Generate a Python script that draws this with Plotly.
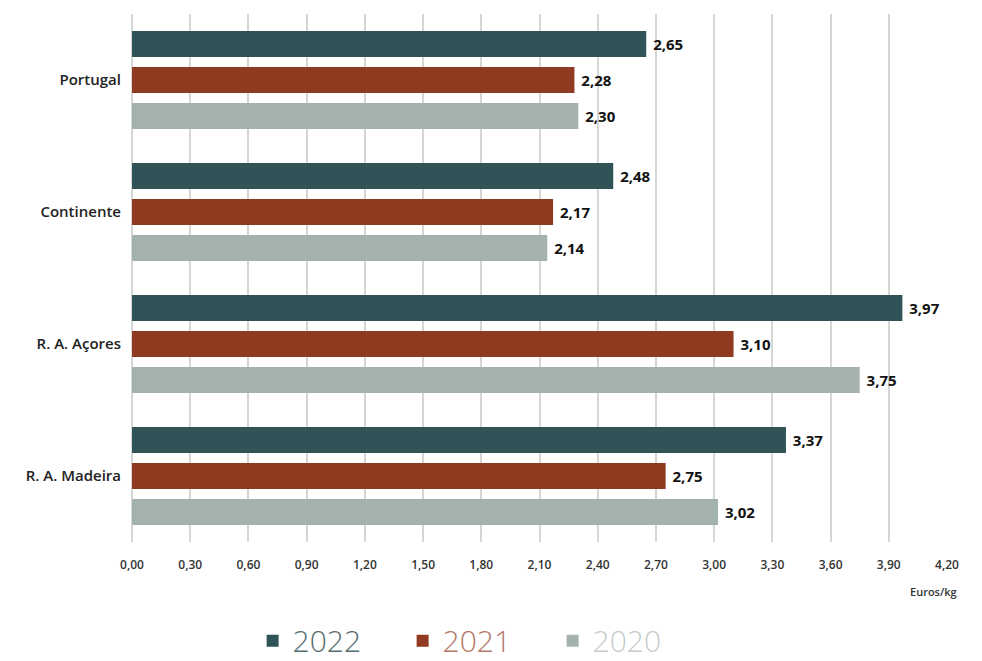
import plotly.graph_objects as go

categories = ["Portugal", "Continente", "R. A. Açores", "R. A. Madeira"]
years = ["2022", "2021", "2020"]
values_2022 = [2.65, 2.48, 3.97, 3.37]
values_2021 = [2.28, 2.17, 3.10, 2.75]
values_2020 = [2.30, 2.14, 3.75, 3.02]
tick_vals = [0.0, 0.3, 0.6, 0.9, 1.2, 1.5, 1.8, 2.1, 2.4, 2.7, 3.0, 3.3, 3.6, 3.9, 4.2]

series = [values_2022, values_2021, values_2020]
bar_colors = ["#2f5357", "#913a22", "#a4b2ac"]
legend_text_colors = ["#566d72", "#b27868", "#c6ccca"]

fig = go.Figure()
for yr, vals, c, tc in zip(years, series, bar_colors, legend_text_colors):
    fig.add_trace(go.Bar(
        y=categories, x=vals, orientation="h",
        name=f"<span style='color:{tc}'>{yr}</span>",
        marker=dict(color=c, line=dict(width=0)),
        texttemplate="\u00a0%{x:.2f}", textposition="outside",
        textfont=dict(family="Open Sans", size=15, color="#111111", weight="bold"),
        cliponaxis=False,
    ))

fig.update_layout(
    width=982, height=661,
    margin=dict(l=132, r=35, t=14, b=119, autoexpand=False),
    paper_bgcolor="white", plot_bgcolor="white",
    separators=",.",
    barmode="group", bargap=0.18, bargroupgap=0.28,
    showlegend=True,
    legend=dict(orientation="h", x=0.148, xanchor="left", y=-0.187, yanchor="middle",
                font=dict(family="Open Sans", size=30, color="#566d72", weight=300),
                entrywidth=105, traceorder="normal"),
    xaxis=dict(range=[0, 4.2], tickvals=tick_vals, tickformat=".2f",
               showgrid=True, gridcolor="#d6d6d6", gridwidth=1.5,
               zeroline=True, zerolinecolor="#d6d6d6", zerolinewidth=1.5,
               showline=False, ticks="", ticklabelstandoff=14,
               tickfont=dict(family="Open Sans", size=12, color="#333333", weight=600)),
    yaxis=dict(autorange="reversed", showgrid=False, showline=False, ticks="",
               ticklabelstandoff=10,
               tickfont=dict(family="Open Sans", size=15, color="#222222", weight=600)),
    annotations=[dict(text="Euros/kg", xref="paper", yref="paper", x=1.015, y=-0.093,
                      xanchor="right", yanchor="middle", showarrow=False,
                      font=dict(family="Open Sans", size=11, color="#333333", weight=600))],
)

fig.write_html("out.html")
